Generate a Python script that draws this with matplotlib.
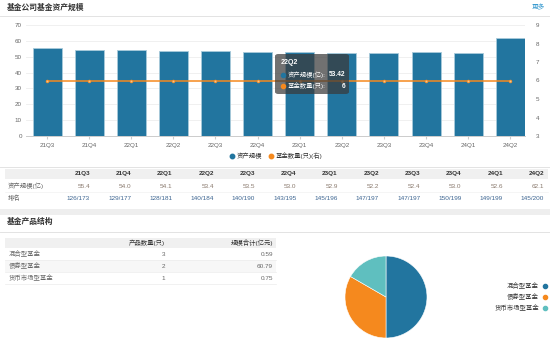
import matplotlib
matplotlib.use('Agg')
from matplotlib import pyplot as plt
from matplotlib.patches import Rectangle, FancyBboxPatch
import numpy as np

quarters = ['21Q3', '21Q4', '22Q1', '22Q2', '22Q3', '22Q4',
            '23Q1', '23Q2', '23Q3', '23Q4', '24Q1', '24Q2']
asset_scale = [55.4, 54.0, 54.1, 53.4, 53.5, 53.0, 52.9, 52.2, 52.4, 53.0, 52.6, 62.1]
fund_count = [6, 6, 6, 6, 6, 6, 6, 6, 6, 6, 6, 6]
ranks = ['126/173', '129/177', '128/181', '140/184', '140/190', '143/195',
         '145/196', '147/197', '147/197', '150/199', '149/199', '145/200']

product_types = ['混合型基金', '债券型基金', '货币市场型基金']
product_counts = [3, 2, 1]
product_scale = [0.59, 60.79, 0.75]

tooltip_quarter = '22Q2'
tooltip_scale = 53.42

plt.rcParams['font.family'] = ['Liberation Sans', 'Noto Sans CJK SC']

W, H = 550, 346
BLUE = '#22759f'
ORANGE = '#f5891e'
TEAL = '#5fbfbf'
GREY_TXT = '#666666'
DARK_TXT = '#333333'


def fx(x):
    return x / W


def fy(y):
    return 1 - y / H


def box(fig, x0, y0, x1, y1, color, **kw):
    fig.add_artist(Rectangle((fx(x0), fy(y1)), fx(x1) - fx(x0), fy(y0) - fy(y1),
                             transform=fig.transFigure, facecolor=color,
                             edgecolor='none', **kw))


def hline(fig, x0, x1, y, color='#e3e3e3', lw=0.7):
    fig.add_artist(plt.Line2D([fx(x0), fx(x1)], [fy(y), fy(y)],
                              transform=fig.transFigure, color=color, lw=lw))


def label(fig, x, y, s, size=4.6, color=GREY_TXT, ha='left', weight='normal', z=None):
    t = fig.text(fx(x), fy(y), s, fontsize=size, color=color, ha=ha, va='center',
                 fontweight=weight)
    if z is not None:
        t.set_zorder(z)
    return t


fig = plt.figure(figsize=(W / 100, H / 100), dpi=100)
fig.patch.set_facecolor('white')

# section 1 header
label(fig, 7, 8, '基金公司基金资产规模', size=5.6, color=DARK_TXT, weight='bold')
label(fig, 538, 8, '更多', size=4.8, color='#3a9bd0', ha='center')
hline(fig, 0, 550, 16)

# bar + line chart
ax = fig.add_axes([fx(26), fy(136), fx(525) - fx(26), fy(25) - fy(136)])
ax.set_zorder(1)
x = np.arange(len(quarters))
ax.bar(x, asset_scale, width=0.69, color=BLUE, edgecolor='#a8cadb', linewidth=0.6, zorder=2)
ax.set_ylim(0, 70)
ax.set_yticks(np.arange(0, 71, 10))
ax.set_xlim(-0.5, 11.35)
ax.set_xticks(x)
ax.set_xticklabels(quarters)
ax.grid(axis='y', color='#eeeeee', lw=0.6, zorder=0)
for s in ['top', 'right', 'left']:
    ax.spines[s].set_visible(False)
ax.spines['bottom'].set_color('#cccccc')
ax.spines['bottom'].set_linewidth(0.7)
ax.tick_params(axis='y', length=0, labelsize=4.5, labelcolor=GREY_TXT, pad=3)
ax.tick_params(axis='x', length=2, color='#cccccc', labelsize=4.5, labelcolor=GREY_TXT, pad=3)

ax2 = ax.twinx()
ax2.set_zorder(2)
ax2.plot(x, fund_count, color=ORANGE, lw=1.1, marker='o', markersize=2,
         markerfacecolor='#f8c58a', markeredgecolor=ORANGE, markeredgewidth=0.5, zorder=3)
ax2.set_ylim(3, 9)
ax2.set_yticks(np.arange(3, 10, 1))
for s in ['top', 'right', 'left', 'bottom']:
    ax2.spines[s].set_visible(False)
ax2.tick_params(axis='y', length=0, labelsize=4.5, labelcolor=GREY_TXT, pad=8)

# legend
fig.add_artist(plt.Line2D([fx(232)], [fy(156)], marker='o', markersize=3.2, color=BLUE,
                          transform=fig.transFigure))
label(fig, 237, 156, '资产规模', size=4.6, color=DARK_TXT)
fig.add_artist(plt.Line2D([fx(271)], [fy(156)], marker='o', markersize=3.2, color=ORANGE,
                          transform=fig.transFigure))
label(fig, 276, 156, '基金数量(只)(右)', size=4.6, color=DARK_TXT)

# tooltip
tip = FancyBboxPatch((fx(275), fy(94)), fx(349) - fx(275), fy(54) - fy(94),
                     boxstyle='round,pad=0,rounding_size=0.006',
                     transform=fig.transFigure, facecolor='#3a3a3a', alpha=0.72,
                     edgecolor='none', zorder=10)
fig.add_artist(tip)
t_idx = quarters.index(tooltip_quarter)
label(fig, 281, 63, tooltip_quarter, size=5, color='white', weight='bold', z=11)
fig.add_artist(plt.Line2D([fx(283)], [fy(75)], marker='o', markersize=3, color=BLUE,
                          transform=fig.transFigure, zorder=11))
label(fig, 288, 75, '资产规模(亿):', color='white', z=11)
label(fig, 345, 75, '%.2f' % tooltip_scale, size=4.8, color='white', ha='right',
      weight='bold', z=11)
fig.add_artist(plt.Line2D([fx(283)], [fy(86)], marker='o', markersize=3, color=ORANGE,
                          transform=fig.transFigure, zorder=11))
label(fig, 288, 86, '基金数量(只):', color='white', z=11)
label(fig, 345, 86, str(fund_count[t_idx]), size=4.8, color='white', ha='right',
      weight='bold', z=11)

# quarterly table
hline(fig, 0, 550, 167)
box(fig, 5, 169, 548, 179, '#f0f0f0')
label(fig, 8, 186, '资产规模(亿)')
label(fig, 8, 198, '排名')
for i, q in enumerate(quarters):
    xr = 90 + 41.3 * i
    label(fig, xr, 174, q, color=DARK_TXT, ha='right', weight='bold')
    label(fig, xr, 186, '%.1f' % asset_scale[i], color='#8a7a6e', ha='right')
    label(fig, xr, 198, ranks[i], color='#3d6591', ha='right')
hline(fig, 5, 548, 192, color='#f2f2f2', lw=0.5)
box(fig, 0, 209, 550, 215, '#eeeeee')

# section 2 header
label(fig, 7, 222, '基金产品结构', size=5.6, color=DARK_TXT, weight='bold')
hline(fig, 0, 550, 232)

# product table
box(fig, 5, 238, 276, 248, '#f0f0f0')
label(fig, 165, 243, '产品数量(只)', ha='right', color=DARK_TXT)
label(fig, 273, 243, '规模合计(亿元)', ha='right', color=DARK_TXT)
row_y = [254, 266, 278]
box(fig, 5, 260, 276, 272, '#f7f7f7')
for i, name in enumerate(product_types):
    label(fig, 9, row_y[i], name)
    label(fig, 165, row_y[i], str(product_counts[i]), ha='right')
    label(fig, 273, row_y[i], '%.2f' % product_scale[i], ha='right')
    hline(fig, 5, 276, row_y[i] + 6, color='#ececec', lw=0.5)

# pie
axp = fig.add_axes([fx(345), fy(338), fx(427) - fx(345), fy(256) - fy(338)])
axp.pie(product_counts, colors=[BLUE, ORANGE, TEAL], startangle=90, counterclock=False,
        wedgeprops={'edgecolor': 'white', 'linewidth': 0.4})
axp.set_xlim(-1, 1)
axp.set_ylim(-1, 1)
axp.set_aspect('equal')
axp.axis('off')

pie_colors = [BLUE, ORANGE, TEAL]
for i, name in enumerate(product_types):
    yy = 286 + 11 * i
    label(fig, 539, yy, name, ha='right', color=DARK_TXT)
    fig.add_artist(plt.Line2D([fx(544.5)], [fy(yy)], marker='o', markersize=3,
                              color=pie_colors[i], transform=fig.transFigure))

fig.savefig('out.png', dpi=100)
